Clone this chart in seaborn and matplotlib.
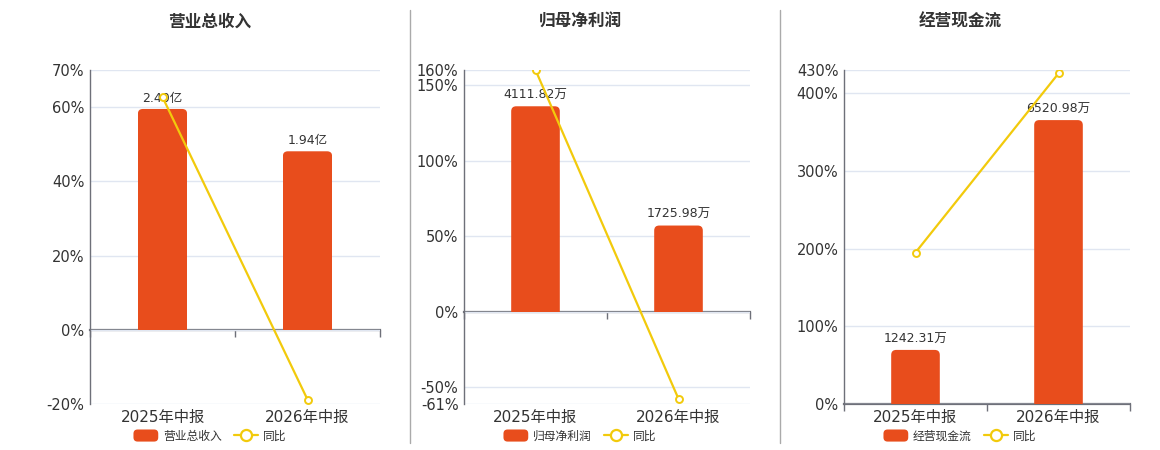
import numpy as np
import pandas as pd
import matplotlib
matplotlib.use("Agg")
import matplotlib.pyplot as plt
from matplotlib.lines import Line2D
from matplotlib.patches import Patch, FancyBboxPatch, Rectangle
from matplotlib.legend_handler import HandlerPatch
import seaborn as sns

# ---------------- data ----------------
periods = ["2025年中报", "2026年中报"]

titles = ["营业总收入", "归母净利润", "经营现金流"]
units = ["亿", "万", "万"]

revenue = [2.40, 1.94]          # 亿
net_profit = [4111.82, 1725.98]  # 万
cash_flow = [1242.31, 6520.98]   # 万

revenue_yoy = [62.7, -18.8]
net_profit_yoy = [160.0, -57.6]
cash_flow_yoy = [195.0, 425.6]

revenue_ticks = [-20, 0, 20, 40, 60, 70]
net_profit_ticks = [-61, -50, 0, 50, 100, 150, 160]
cash_flow_ticks = [0, 100, 200, 300, 400, 430]

# ---------------- style ----------------
sns.set_theme(style="white")
plt.rcParams["font.family"] = ["DejaVu Sans", "Noto Sans CJK SC"]

BAR = "#E84D1C"
LINE = "#F2CA0C"
GRID = "#E0E6F1"
AXIS = "#6E7079"
TXT = "#333333"

fig = plt.figure(figsize=(11.6, 4.5), dpi=100)
W, H = 1160, 450

panels = [
    (revenue, revenue_yoy, revenue_ticks),
    (net_profit, net_profit_yoy, net_profit_ticks),
    (cash_flow, cash_flow_yoy, cash_flow_ticks),
]
lefts = [90, 464, 844]
widths = [290, 286, 286]
centers = [210, 580, 960]
top_px, bot_px = 70, 404
RADIUS_PX = 5


def rounded_handle(legend, orig_handle, xdescent, ydescent, width, height, fontsize):
    return FancyBboxPatch((-xdescent, -ydescent), width, height,
                          boxstyle="round,pad=0,rounding_size=3",
                          facecolor=BAR, edgecolor="none")


for i, (vals, yoy, ticks) in enumerate(panels):
    ax = fig.add_axes([lefts[i] / W, 1 - bot_px / H, widths[i] / W, (bot_px - top_px) / H])
    ymin, ymax = min(ticks), max(ticks)
    k = max(vals) / (0.85 * ymax)

    df = pd.DataFrame({"period": periods, "value": vals})
    sns.barplot(data=df, x="period", y="value", ax=ax, color=BAR, width=0.34,
                saturation=1, edgecolor="none", zorder=2)
    ax.set_ylim(ymin * k, ymax * k)
    ax.set_xlim(-0.5, 1.5)

    # replace the square bars by bars with rounded top corners
    x_per_px = 2.0 / widths[i]
    y_per_px = (ymax - ymin) * k / (bot_px - top_px)
    rx = RADIUS_PX * x_per_px
    ry = RADIUS_PX * y_per_px
    for p in list(ax.patches):
        x0, w, h = p.get_x(), p.get_width(), p.get_height()
        fb = FancyBboxPatch((x0, -ry), w, h + ry,
                            boxstyle=f"round,pad=0,rounding_size={rx}",
                            mutation_aspect=ry / rx,
                            facecolor=BAR, edgecolor="none", zorder=2)
        ax.add_patch(fb)
        clip = Rectangle((x0, 0), w, h + ry, transform=ax.transData)
        fb.set_clip_path(clip)
        p.set_visible(False)

    ax.set_yticks([t * k for t in ticks])
    ax.set_yticklabels([])
    ax.tick_params(axis="y", length=0)
    ax.grid(axis="y", color=GRID, linewidth=1, zorder=0)
    ax.set_axisbelow(True)
    ax.set_xlabel("")
    ax.set_ylabel("")
    ax.tick_params(axis="x", length=0, labelsize=11, labelcolor=TXT, pad=4)
    for s in ["top", "right", "bottom"]:
        ax.spines[s].set_visible(False)
    ax.spines["left"].set_color(AXIS)
    ax.spines["left"].set_linewidth(1)

    ax.bar_label(ax.containers[0], labels=[f"{v:.2f}{units[i]}" for v in vals],
                 padding=3, fontsize=9, color=TXT)

    # zero axis line with category ticks
    sec = ax.secondary_xaxis(0, transform=ax.transData)
    sec.set_xticks([-0.5, 0.5, 1.5])
    sec.set_xticklabels([])
    sec.tick_params(axis="x", direction="out", length=5, color=AXIS, width=1)
    sec.spines["bottom"].set_color(AXIS)
    sec.spines["bottom"].set_linewidth(1.6)

    ax2 = ax.twinx()
    sns.lineplot(x=[0, 1], y=yoy, ax=ax2, color=LINE, linewidth=1.6, marker="o",
                 markersize=5, markerfacecolor="white", markeredgecolor=LINE,
                 markeredgewidth=1.4, zorder=5)
    ax2.set_ylim(ymin, ymax)
    ax2.set_yticks(ticks)
    ax2.set_yticklabels([f"{t}%" for t in ticks])
    ax2.yaxis.tick_left()
    ax2.tick_params(axis="y", length=0, labelsize=10.5, labelcolor=TXT, pad=4)
    ax2.grid(False)
    for s in ["top", "right", "bottom", "left"]:
        ax2.spines[s].set_visible(False)
    ax2.set_ylabel("")

    fig.text(centers[i] / W, 1 - 22 / H, titles[i], ha="center", va="center",
             fontsize=12, fontweight="bold", color=TXT, family=["Noto Sans CJK SC"])

    bar_handle = Patch(facecolor=BAR, edgecolor="none")
    line_handle = Line2D([0], [0], color=LINE, linewidth=1.6, marker="o", markersize=8,
                         markerfacecolor="white", markeredgecolor=LINE, markeredgewidth=1.6)
    fig.legend([bar_handle, line_handle], [titles[i], "同比"], loc="center",
               bbox_to_anchor=(centers[i] / W, 1 - 436 / H), ncol=2, frameon=False,
               labelcolor=TXT, handlelength=2.1, handleheight=1.2,
               handletextpad=0.4, columnspacing=1.0,
               handler_map={Patch: HandlerPatch(patch_func=rounded_handle)},
               prop={"family": ["Noto Sans CJK SC"], "size": 8.5})

for x in [410, 780]:
    fig.add_artist(Line2D([x / W, x / W], [1 - 443 / H, 1 - 10 / H],
                          transform=fig.transFigure, color="#AAAAAA", linewidth=1))

fig.savefig("out.png", dpi=100, facecolor="white")
